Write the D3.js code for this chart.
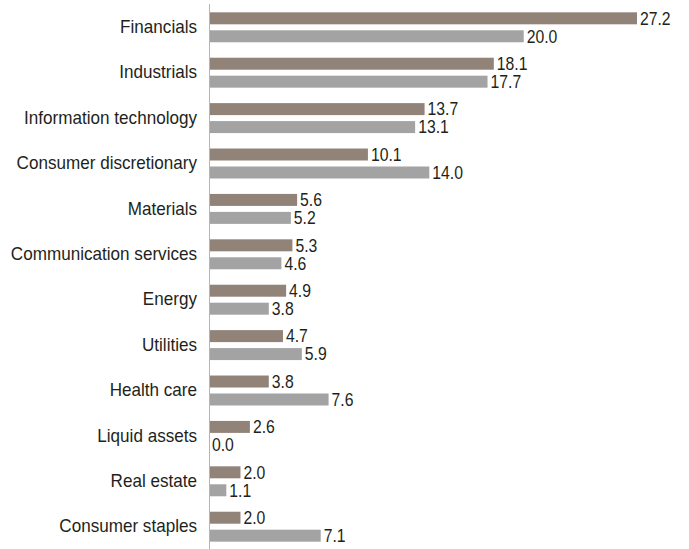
<!DOCTYPE html>
<html>
<head>
<meta charset="utf-8">
<script src="https://cdn.jsdelivr.net/npm/d3@7"></script>
<style>
  body { margin: 0; background: #fff; }
  text { font-family: "Liberation Sans", Arial, sans-serif; fill: #231f20; }
</style>
</head>
<body>
<div id="chart"></div>
<script>
const categories = ["Financials", "Industrials", "Information technology", "Consumer discretionary",
  "Materials", "Communication services", "Energy", "Utilities", "Health care",
  "Liquid assets", "Real estate", "Consumer staples"]
const seriesNames = ["fund", "benchmark"]
const fundValues = [27.2, 18.1, 13.7, 10.1, 5.6, 5.3, 4.9, 4.7, 3.8, 2.6, 2.0, 2.0]
const benchValues = [20.0, 17.7, 13.1, 14.0, 5.2, 4.6, 3.8, 5.9, 7.6, 0.0, 1.1, 7.1]

const width = 689, height = 549
const colors = { fund: "#928379", benchmark: "#a3a3a3" }

const data = categories.map((c, i) => ({ cat: c, fund: fundValues[i], benchmark: benchValues[i] }))

const svg = d3.select("#chart").append("svg")
  .attr("width", width)
  .attr("height", height)

// x scale: 0 sits on the axis line
const x = d3.scaleLinear().domain([0, 27.2]).range([209, 637])

// group bands, then two bars inside each
const y0 = d3.scaleBand()
  .domain(categories)
  .range([4.6, 549.4])
  .paddingInner(0.34)
  .paddingOuter(0.17)

const y1 = d3.scaleBand()
  .domain(seriesNames)
  .range([0, y0.bandwidth()])
  .paddingInner(0.333)

const groups = svg.selectAll("g.grp")
  .data(data)
  .enter()
  .append("g")
    .attr("class", "grp")
    .attr("transform", d => "translate(0," + y0(d.cat) + ")")

groups.selectAll("rect")
  .data(d => seriesNames.map(s => ({ s, v: d[s] })))
  .enter()
  .append("rect")
    .attr("x", x(0))
    .attr("y", d => y1(d.s))
    .attr("width", d => x(d.v) - x(0))
    .attr("height", y1.bandwidth())
    .attr("fill", d => colors[d.s])

// value labels (narrowed a bit to look like the condensed original font)
groups.selectAll("text.val")
  .data(d => seriesNames.map(s => ({ s, v: d[s] })))
  .enter()
  .append("text")
    .attr("class", "val")
    .attr("transform", d => "translate(" + (x(d.v) + 3) + "," + (y1(d.s) + y1.bandwidth() / 2) + ") scale(0.9,1)")
    .attr("dy", "0.36em")
    .style("font-size", "17.5px")
    .text(d => d3.format(".1f")(d.v))

// y axis: just the line and the category names
const yAxis = svg.append("g")
  .attr("transform", "translate(" + x(0) + ",0)")
  .call(d3.axisLeft(y0).tickSize(0).tickPadding(12))
yAxis.select(".domain").attr("stroke", "#b5b5b5").attr("d", "M0.5,4V549")
yAxis.selectAll(".tick text")
  .attr("x", -12.6)
  .attr("transform", "scale(0.95,1)")
  .style("font-size", "18px")
  .attr("fill", "#231f20")
</script>
</body>
</html>
